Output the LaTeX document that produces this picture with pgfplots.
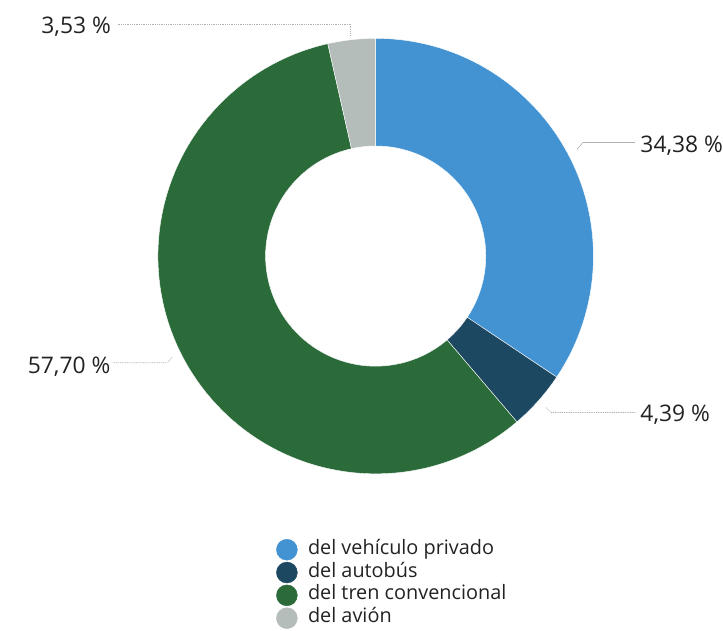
\documentclass[border=0pt]{standalone}
\usepackage{pgfplots}
\pgfplotsset{compat=1.18}
\usepackage{fontspec}
\setmainfont{Open Sans}
\definecolor{cPriv}{HTML}{4393D3}
\definecolor{cBus}{HTML}{1D4862}
\definecolor{cTren}{HTML}{2B6B3A}
\definecolor{cAvion}{HTML}{B5BDBA}
\definecolor{cLine}{HTML}{B0B0B0}
\definecolor{cText}{HTML}{222222}
% data (percent)
\def\vPriv{34.38}\def\vBus{4.39}\def\vTren{57.70}\def\vAvion{3.53}
\pgfmathsetmacro\aA{90}
\pgfmathsetmacro\aB{\aA-3.6*\vPriv}
\pgfmathsetmacro\aC{\aB-3.6*\vBus}
\pgfmathsetmacro\aD{\aC-3.6*\vTren}
\pgfmathsetmacro\aE{\aD-3.6*\vAvion}
\def\Ro{218.5bp}\def\Ri{110.5bp}
\newcommand\slice[3]{%
  \fill[#3, draw=white, line width=0.4bp] (axis cs:377,376) ++(#1:\Ro)
    arc[start angle=#1, end angle=#2, radius=\Ro] -- ++(#2+180:108bp)
    arc[start angle=#2, end angle=#1, radius=\Ri] -- cycle;}
\begin{document}
\begin{tikzpicture}
\begin{axis}[x=1bp,y=1bp,xmin=0,xmax=723,ymin=0,ymax=633,hide axis,clip=false,
  legend style={at={(axis cs:277,93)},anchor=north west,draw=none,fill=none,
    inner sep=0pt,row sep=0pt,font=\fontsize{20}{22}\selectfont\color{cText},
    nodes={inner sep=1bp,text height=15bp,text depth=5.9bp}},
  legend cell align=left,
  /tikz/every odd column/.append style={column sep=9.5bp}]
\path (axis cs:0,0) rectangle (axis cs:723,633);
\slice{\aA}{\aB}{cPriv}
\slice{\aB}{\aC}{cBus}
\slice{\aC}{\aD}{cTren}
\slice{\aD}{\aE}{cAvion}
% leader lines
\draw[cLine,line width=0.6bp,dash pattern=on 1bp off 0.8bp] (axis cs:118,609) -- (axis cs:352,609) -- (axis cs:352,598);
\draw[cLine,line width=0.6bp] (axis cs:579,483) -- (axis cs:585,490) -- (axis cs:637,490);
\draw[cLine,line width=0.6bp,dash pattern=on 1bp off 0.8bp] (axis cs:548,224) -- (axis cs:553,219) -- (axis cs:638,219);
\draw[cLine,line width=0.6bp,dash pattern=on 1bp off 0.8bp] (axis cs:113,269) -- (axis cs:168,269) -- (axis cs:173,275);
% labels
\begin{scope}[every node/.style={font=\fontsize{23}{26}\selectfont,text=cText,inner sep=0pt}]
\node[anchor=base east] at (axis cs:111.5,599.7) {3,53 \%};
\node[anchor=base west] at (axis cs:642.5,479.7) {34,38 \%};
\node[anchor=base west] at (axis cs:642.5,210.5) {4,39 \%};
\node[anchor=base east] at (axis cs:111,258) {57,70 \%};
\end{scope}
\addlegendimage{legend image code/.code={\fill[cPriv] (0bp,0bp) circle (10.5bp);}}
\addlegendentry{del vehículo privado}
\addlegendimage{legend image code/.code={\fill[cBus] (0bp,0bp) circle (10.5bp);}}
\addlegendentry{del autobús}
\addlegendimage{legend image code/.code={\fill[cTren] (0bp,0bp) circle (10.5bp);}}
\addlegendentry{del tren convencional}
\addlegendimage{legend image code/.code={\fill[cAvion] (0bp,0bp) circle (10.5bp);}}
\addlegendentry{del avión}
\end{axis}
\end{tikzpicture}
\end{document}
